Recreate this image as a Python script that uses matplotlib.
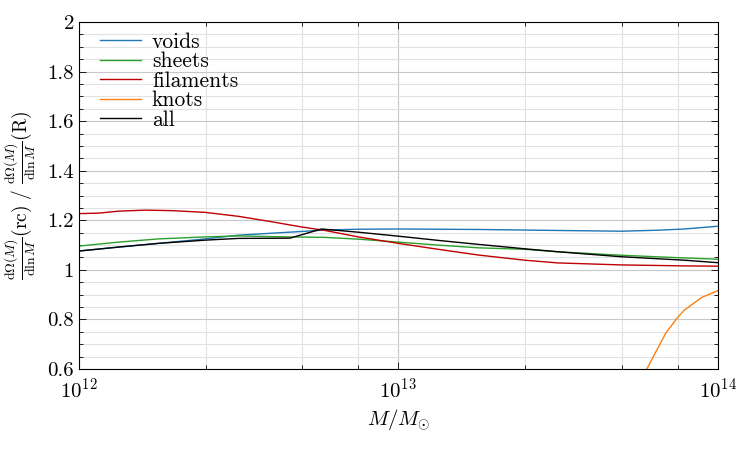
import numpy as np
import matplotlib
matplotlib.use("Agg")
import matplotlib.pyplot as plt
from matplotlib.ticker import FixedLocator, FuncFormatter, LogLocator, MultipleLocator

plt.rcParams['font.family'] = 'serif'
plt.rcParams['font.serif'] = ['cmr10', 'DejaVu Serif']
plt.rcParams['mathtext.fontset'] = 'cm'
plt.rcParams['axes.formatter.use_mathtext'] = True

# log10(M / Msun) sample points
logm_voids = [12.0, 12.125, 12.25, 12.396, 12.5, 12.698, 12.771, 12.875, 13.0,
              13.25, 13.5, 13.698, 13.8125, 13.896, 14.0]
voids = [1.076, 1.092, 1.107, 1.125, 1.140, 1.155, 1.161, 1.164, 1.165,
         1.163, 1.159, 1.156, 1.160, 1.165, 1.176]

logm_sheets = [12.0, 12.125, 12.25, 12.396, 12.5, 12.656, 12.771, 12.875, 13.0,
               13.125, 13.25, 13.396, 13.5, 13.698, 13.896, 14.0]
sheets = [1.096, 1.112, 1.125, 1.133, 1.137, 1.133, 1.131, 1.124, 1.112,
          1.100, 1.089, 1.083, 1.073, 1.059, 1.048, 1.043]

logm_fil = [12.0, 12.0625, 12.125, 12.208, 12.292, 12.396, 12.5, 12.6, 12.698,
            12.771, 12.875, 13.0, 13.125, 13.25, 13.396, 13.5, 13.698, 13.896, 14.0]
filaments = [1.227, 1.229, 1.237, 1.241, 1.239, 1.232, 1.216, 1.195, 1.173,
             1.159, 1.133, 1.107, 1.083, 1.060, 1.039, 1.028, 1.020, 1.016, 1.015]

logm_knots = [13.74, 13.778, 13.8365, 13.872, 13.894, 13.95, 14.0]
knots = [0.45, 0.60, 0.743, 0.804, 0.836, 0.889, 0.916]

logm_all = [12.0, 12.125, 12.25, 12.396, 12.5, 12.661, 12.76, 12.875, 13.0,
            13.125, 13.25, 13.396, 13.5, 13.698, 13.896, 14.0]
all_env = [1.076, 1.092, 1.107, 1.120, 1.127, 1.128, 1.165, 1.152, 1.136,
           1.119, 1.103, 1.085, 1.073, 1.053, 1.039, 1.029]

series = [
    ("voids", logm_voids, voids, "#1f77b4"),
    ("sheets", logm_sheets, sheets, "#2ca02c"),
    ("filaments", logm_fil, filaments, "#c00000"),
    ("knots", logm_knots, knots, "#ff7f0e"),
    ("all", logm_all, all_env, "black"),
]

fig = plt.figure(figsize=(7.5, 4.5), dpi=100)
ax = fig.add_axes([0.105, 0.18, 0.852, 0.771])

for name, lm, vals, col in series:
    ax.plot(10 ** np.array(lm), vals, color=col, lw=1.0, label=name)

ax.set_xscale('log')
ax.set_xlim(1e12, 1e14)
ax.set_ylim(0.6, 2.0)

ax.xaxis.set_major_locator(LogLocator(base=10, numticks=5))
ax.xaxis.set_minor_locator(FixedLocator([2.5e12, 5e12, 7.5e12, 2.5e13, 5e13, 7.5e13]))
ax.yaxis.set_major_locator(MultipleLocator(0.2))
ax.yaxis.set_minor_locator(MultipleLocator(0.05))
ax.yaxis.set_major_formatter(FuncFormatter(lambda v, p: '%g' % round(v, 2)))

ax.grid(which='major', color='#c8c8c8', lw=0.8)
ax.grid(which='minor', color='#e2e2e2', lw=0.8)
ax.set_axisbelow(True)

ax.tick_params(which='both', direction='in', top=True, right=True, labelsize=15)
ax.tick_params(which='major', length=5, width=0.6)
ax.tick_params(which='minor', length=3, width=0.6)
ax.tick_params(axis='x', pad=6)
for s in ax.spines.values():
    s.set_linewidth(0.8)

ax.set_xlabel(r'$M/M_{\odot}$', fontsize=15)
ax.set_ylabel(r'$\frac{\mathrm{d}\Omega(M)}{\mathrm{d}\ln M}(\mathrm{rc})\ /\ '
              r'\frac{\mathrm{d}\Omega(M)}{\mathrm{d}\ln M}(\mathrm{R})$', fontsize=14)
ax.yaxis.set_label_coords(-0.063, 0.5)

ax.legend(loc='upper left', frameon=False, fontsize=15.5, labelspacing=0.0,
          handlelength=1.9, handletextpad=0.5, borderaxespad=0.0,
          bbox_to_anchor=(0.02, 0.995))

fig.savefig('out.png', dpi=100)
